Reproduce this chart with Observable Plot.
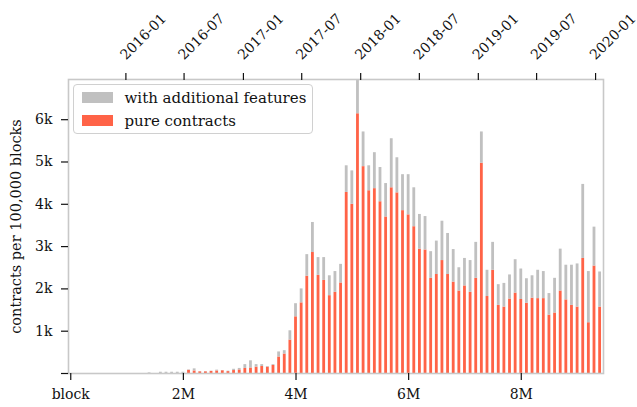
<!DOCTYPE html>
<html>
<head>
<meta charset="utf-8">
<script src="https://cdn.jsdelivr.net/npm/d3@7"></script>
<script src="https://cdn.jsdelivr.net/npm/@observablehq/plot@0.6"></script>
<style>
  html, body { margin: 0; padding: 0; background: #fff; }
  #wrap { position: relative; width: 637px; height: 407px; font-family: "DejaVu Serif", serif; }
  #legend { position: absolute; left: 73px; top: 84px; width: 238px; height: 48px;
    border: 1.5px solid #d0d0d0; border-radius: 4px; background: rgba(255,255,255,0.85);
    font-size: 15px; color: #111; }
  .item { position: absolute; left: 7.5px; height: 14px; display: flex; align-items: center; white-space: nowrap; }
  .sw { width: 31px; height: 11px; margin-right: 12px; }
</style>
</head>
<body>
<div id="wrap"></div>
<script>
// bin start (millions of blocks), one bin per 100,000 blocks
const bins = d3.range(95).map(i => i / 10);
// pure contracts per bin
const pureContracts = [
  0,0,0,0,0,0,0,0,0,0, 0,0,0,0,0,0,0,0,0,0,
  0,75,60,40,40,50,60,65,45,70,
  85,120,130,150,165,150,190,390,460,790,
  1340,1670,2300,2860,2320,2200,1840,1920,2140,4280,
  4000,6140,4890,4320,4370,4060,3700,4390,4270,3850,
  3750,3470,2940,2920,2250,2340,2670,2340,2160,1950,
  2070,1920,2250,4970,1820,2440,1610,1570,1760,1900,
  1750,1660,1780,1770,1770,1380,1430,1950,1740,1610,
  1570,2720,1200,2540,1570
];
// totals (pure + with additional features)
const totals = [
  0,0,0,0,0,0,0,0,0,0, 0,0,0,0,15,0,30,30,30,30,
  30,85,110,45,45,55,80,70,55,100,
  120,210,300,210,210,165,210,510,540,1010,
  1650,2000,2810,3570,2740,2740,2310,2410,2580,4910,
  4790,7300,5710,4910,5220,4870,4490,5550,5100,4700,
  4700,4390,3760,3710,2880,3130,3600,3310,2930,2500,
  2720,2670,3100,5710,2440,3100,2100,2130,2330,2690,
  2470,2240,2310,2440,2410,1890,2250,2940,2560,2560,
  2590,4470,2410,3460,2400
];
const seriesNames = ["pure contracts", "with additional features"];
const seriesColors = ["#ff6347", "#c0c0c0"];
const xTicks = [0, 2, 4, 6, 8];
const xTickLabels = ["block", "2M", "4M", "6M", "8M"];
const yTicks = [0, 1000, 2000, 3000, 4000, 5000, 6000];
const yTickLabels = ["", "1k", "2k", "3k", "4k", "5k", "6k"];
const yLabel = "contracts per 100,000 blocks";
const dateLabels = ["2016-01","2016-07","2017-01","2017-07","2018-01","2018-07","2019-01","2019-07","2020-01"];
const dateBlocks = [0.846, 1.879, 2.933, 3.968, 5.015, 6.057, 7.104, 8.139, 9.186];

const n = bins.length;
const rows = [];
for (let i = 0; i < n; i++) rows.push({block: bins[i], series: seriesNames[0], value: pureContracts[i] || 0});
for (let i = 0; i < n; i++) rows.push({block: bins[i], series: seriesNames[1], value: Math.max(0, (totals[i] || 0) - (pureContracts[i] || 0))});

const halfW = 0.025;
const chart = Plot.plot({
  width: 637,
  height: 407,
  marginLeft: 68,
  marginRight: 34,
  marginTop: 79,
  marginBottom: 34,
  style: {fontFamily: "DejaVu Serif", fontSize: "14px", color: "#111", background: "transparent"},
  x: {domain: [-0.04, 9.46]},
  y: {domain: [0, 6950]},
  color: {domain: seriesNames, range: seriesColors},
  marks: [
    Plot.rectY(rows, {
      x1: d => d.block - halfW, x2: d => d.block + halfW,
      y: "value", fill: "series", clip: true
    }),
    Plot.frame({stroke: "#c8c8c8", strokeWidth: 1.6}),
    Plot.axisX(xTicks, {anchor: "bottom", tickSize: 7, tickPadding: 9, strokeWidth: 1.2,
      tickFormat: d => xTickLabels[xTicks.indexOf(d)], label: null}),
    Plot.axisX(dateBlocks, {anchor: "top", tickSize: 7, tickPadding: 12, strokeWidth: 1.2, tickRotate: -45,
      textAnchor: "start", lineAnchor: "bottom", dx: 7.5,
      tickFormat: d => dateLabels[dateBlocks.indexOf(d)], label: null}),
    Plot.axisY(yTicks, {anchor: "left", tickSize: 7, tickPadding: 9, strokeWidth: 1.2,
      tickFormat: d => yTickLabels[yTicks.indexOf(d)], label: null}),
    Plot.text([yLabel], {text: d => d, frameAnchor: "left", rotate: -90, dx: -52,
      lineAnchor: "middle", textAnchor: "middle", fontSize: 14.5})
  ]
});
const wrap = document.getElementById("wrap");
wrap.appendChild(chart);
const legend = document.createElement("div");
legend.id = "legend";
[[1, 5.5], [0, 28.5]].forEach(([k, top]) => {
  const item = document.createElement("div");
  item.className = "item";
  item.style.top = top + "px";
  const sw = document.createElement("span");
  sw.className = "sw";
  sw.style.background = seriesColors[k];
  const tx = document.createElement("span");
  tx.textContent = seriesNames[k];
  item.appendChild(sw); item.appendChild(tx);
  legend.appendChild(item);
});
wrap.appendChild(legend);
</script>
</body>
</html>
